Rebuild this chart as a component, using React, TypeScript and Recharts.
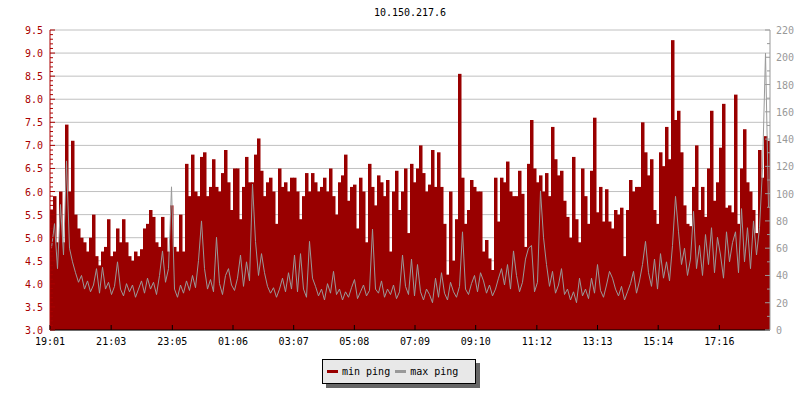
import React from 'react'
import { ComposedChart, Bar, Line, XAxis, YAxis, CartesianGrid } from 'recharts'

// min ping in ms (left axis), one value per ~6 minutes
const minPing = [
  5.6, 5.9, 4.9, 6.0, 4.9, 7.45, 6.0, 7.1, 5.5, 5.2,
  5.0, 4.9, 4.7, 5.0, 5.5, 4.6, 4.4, 4.7, 4.8, 5.4,
  4.6, 4.7, 5.2, 4.9, 5.4, 4.9, 4.6, 4.5, 4.7, 4.6,
  4.75, 5.2, 5.3, 5.6, 5.45, 4.9, 4.8, 5.45, 5.0, 4.7,
  5.7, 4.8, 4.7, 5.5, 4.7, 6.6, 5.9, 6.8, 6.0, 5.9,
  6.75, 6.85, 5.9, 6.1, 6.7, 6.1, 6.0, 6.4, 6.9, 6.2,
  5.6, 6.5, 6.5, 5.4, 6.1, 6.75, 6.2, 6.2, 6.8, 7.15,
  6.45, 5.9, 6.2, 6.3, 6.0, 5.3, 6.5, 6.1, 6.2, 6.0,
  6.3, 6.3, 6.0, 5.4, 5.9, 6.4, 6.0, 6.4, 6.2, 6.0,
  6.1, 6.3, 6.0, 6.5, 5.9, 5.5, 6.2, 6.35, 6.8, 5.8,
  6.1, 6.15, 5.2, 6.3, 6.0, 4.9, 6.6, 6.1, 5.7, 6.35,
  6.2, 5.9, 6.25, 4.7, 6.0, 6.45, 5.6, 6.0, 6.5, 5.1,
  6.6, 6.2, 6.5, 7.0, 6.4, 6.0, 6.15, 6.9, 6.1, 6.85,
  6.1, 5.3, 4.2, 6.0, 4.5, 5.4, 8.55, 6.3, 5.3, 5.6,
  6.25, 6.1, 6.0, 6.0, 4.7, 4.95, 4.55, 4.3, 6.3, 5.35,
  6.3, 6.2, 6.65, 6.0, 5.9, 5.9, 6.45, 5.95, 4.8, 6.6,
  7.55, 6.5, 6.2, 6.35, 6.0, 6.4, 5.9, 7.4, 6.7, 6.35,
  6.45, 5.8, 5.45, 5.0, 6.75, 5.4, 4.9, 6.5, 5.9, 5.3,
  6.45, 7.6, 5.55, 6.1, 5.35, 6.05, 5.35, 5.2, 5.6, 5.5,
  5.65, 4.6, 5.6, 6.25, 6.0, 6.1, 6.1, 7.5, 6.85, 6.35,
  6.7, 5.6, 5.3, 6.85, 6.55, 7.4, 6.7, 9.28, 7.55, 7.75,
  6.85, 5.7, 5.3, 5.25, 6.1, 7.0, 5.6, 6.1, 5.45, 6.5,
  7.75, 5.8, 6.2, 6.95, 7.9, 5.65, 5.7, 5.55, 8.1, 5.3,
  6.5, 7.35, 6.2, 6.0, 5.6, 5.1, 6.9, 6.3, 7.2, 7.1,
]

// max ping in ms (right axis)
const maxPing = [
  60, 78, 45, 92, 55, 124, 60, 50, 42, 35,
  40, 30, 36, 28, 33, 45, 27, 46, 30, 35,
  26, 32, 50, 30, 25, 34, 28, 33, 24, 30,
  36, 27, 38, 30, 35, 26, 40, 58, 35, 45,
  105, 30, 24, 33, 27, 36, 29, 40, 31, 51,
  80, 45, 30, 37, 28, 68, 34, 26, 40, 45,
  33, 29, 38, 55, 32, 50, 36, 107, 65, 40,
  56, 42, 32, 27, 31, 24, 30, 38, 28, 42,
  30, 55, 28, 56, 30, 24, 65, 38, 32, 25,
  30, 22, 34, 27, 43, 26, 30, 22, 28, 24,
  31, 37, 23, 28, 33, 25, 29, 74, 30, 27,
  36, 24, 30, 26, 33, 23, 28, 55, 32, 26,
  52, 25, 48, 28, 22, 30, 26, 20, 38, 24,
  42, 27, 22, 35, 28, 24, 32, 72, 30, 26,
  34, 40, 28, 42, 36, 27, 33, 25, 30, 38,
  45, 33, 48, 30, 58, 40, 28, 35, 52, 60,
  62, 28, 35, 102, 68, 48, 32, 43, 27, 33,
  45, 26, 30, 22, 28, 20, 38, 25, 30, 23,
  38, 27, 48, 29, 24, 33, 43, 38, 30, 25,
  32, 22, 28, 34, 43, 27, 36, 48, 65, 42,
  32, 52, 30, 56, 38, 50, 36, 62, 98, 72,
  48, 60, 40, 52, 87, 45, 62, 40, 70, 48,
  75, 42, 68, 55, 38, 72, 50, 64, 72, 42,
  89, 50, 75, 45, 80, 55, 75, 118, 203, 90,
]

// minutes after 19:01 and their labels
const tickMinutes = [0, 122, 244, 365, 486, 607, 728, 849, 971, 1092, 1213, 1335]
const tickLabels = ['19:01', '21:03', '23:05', '01:06', '03:07', '05:08', '07:09', '09:10', '11:12', '13:13', '15:14', '17:16']
const leftMajor = [3.0, 3.5, 4.0, 4.5, 5.0, 5.5, 6.0, 6.5, 7.0, 7.5, 8.0, 8.5, 9.0, 9.5]
const rightMajor = [0, 20, 40, 60, 80, 100, 120, 140, 160, 180, 200, 220]
const spanMinutes = 1436

const RED = '#990000'
const RED_AXIS = '#aa0000'
const GRAY = '#999999'
const FONT = '"DejaVu Sans Mono", monospace'

const step = spanMinutes / minPing.length
const data = minPing.map((v, i) => ({ t: (i + 0.5) * step, min: v, max: maxPing[i] }))

const leftTicks = Array.from({ length: 66 }, (_, i) => (30 + i) / 10)
const rightTicks = Array.from({ length: 23 }, (_, i) => i * 10)

const LeftTick = ({ x, y, payload }: any) => {
  const major = Math.round(payload.value * 10) % 5 === 0
  return (
    <g>
      <line x1={x} x2={x + (major ? 5 : 3)} y1={y} y2={y} stroke={RED_AXIS} />
      {major && (
        <text x={x - 7} y={y + 4} textAnchor="end" fill={RED_AXIS} fontSize={10} fontFamily={FONT}>
          {payload.value.toFixed(1)}
        </text>
      )}
    </g>
  )
}

const RightTick = ({ x, y, payload }: any) => {
  const major = rightMajor.includes(payload.value)
  return (
    <g>
      <line x1={x - (major ? 5 : 3)} x2={x} y1={y} y2={y} stroke={GRAY} />
      {major && (
        <text x={x + 6} y={y + 4} textAnchor="start" fill={GRAY} fontSize={10} fontFamily={FONT}>
          {payload.value}
        </text>
      )}
    </g>
  )
}

const TimeTick = ({ x, y, payload }: any) => {
  const label = tickLabels[tickMinutes.indexOf(payload.value)]
  return (
    <g>
      <line x1={x} x2={x} y1={y - 5} y2={y} stroke="#000" />
      <text x={x} y={y + 15} textAnchor="middle" fill="#000" fontSize={10} fontFamily={FONT}>
        {label}
      </text>
    </g>
  )
}

// one solid column per sample, no seams between neighbours
const Column = ({ x, y, width, height }: any) => (
  <rect x={Math.floor(x)} y={y} width={Math.ceil(width) + 0.5} height={height} fill={RED} />
)

export default function App() {
  return (
    <div style={{ position: 'absolute', left: 0, top: 0, width: 800, height: 400, background: '#fff', fontFamily: FONT }}>
      <div style={{ position: 'absolute', left: 50, top: 7, width: 720, textAlign: 'center', fontSize: 10, lineHeight: '12px', color: '#000' }}>
        10.150.217.6
      </div>
      <ComposedChart width={800} height={400} data={data} margin={{ top: 30, right: 0, bottom: 50, left: 0 }}>
        <CartesianGrid yAxisId="left" vertical={false} horizontalValues={leftMajor} stroke="#c0c0c0" />
        <XAxis
          dataKey="t"
          type="number"
          domain={[0, spanMinutes]}
          allowDataOverflow
          ticks={tickMinutes}
          interval={0}
          height={20}
          tickSize={0}
          tickMargin={0}
          tick={<TimeTick />}
          axisLine={{ stroke: '#000' }}
        />
        <YAxis
          yAxisId="left"
          orientation="left"
          width={50}
          domain={[3, 9.5]}
          allowDataOverflow
          ticks={leftTicks}
          interval={0}
          tickSize={0}
          tickMargin={0}
          tick={<LeftTick />}
          axisLine={{ stroke: RED_AXIS }}
        />
        <YAxis
          yAxisId="right"
          orientation="right"
          width={30}
          domain={[0, 220]}
          allowDataOverflow
          ticks={rightTicks}
          interval={0}
          tickSize={0}
          tickMargin={0}
          tick={<RightTick />}
          axisLine={{ stroke: GRAY }}
        />
        <Bar yAxisId="left" dataKey="min" fill={RED} barSize={2.99} shape={<Column />} isAnimationActive={false} />
        <Line yAxisId="right" dataKey="max" stroke={GRAY} strokeWidth={1} dot={false} activeDot={false} type="linear" isAnimationActive={false} />
      </ComposedChart>
      <div
        style={{
          position: 'absolute', left: 322, top: 359, width: 152, height: 23,
          border: '1px solid #000', background: '#e8e8e8', boxShadow: '4px 4px 0 #666',
          display: 'flex', alignItems: 'center', fontSize: 10, color: '#000',
        }}
      >
        <span style={{ width: 11, height: 3, background: RED, marginLeft: 4, marginRight: 4 }} />
        <span>min ping</span>
        <span style={{ width: 11, height: 3, background: GRAY, marginLeft: 5, marginRight: 4 }} />
        <span>max ping</span>
      </div>
    </div>
  )
}
